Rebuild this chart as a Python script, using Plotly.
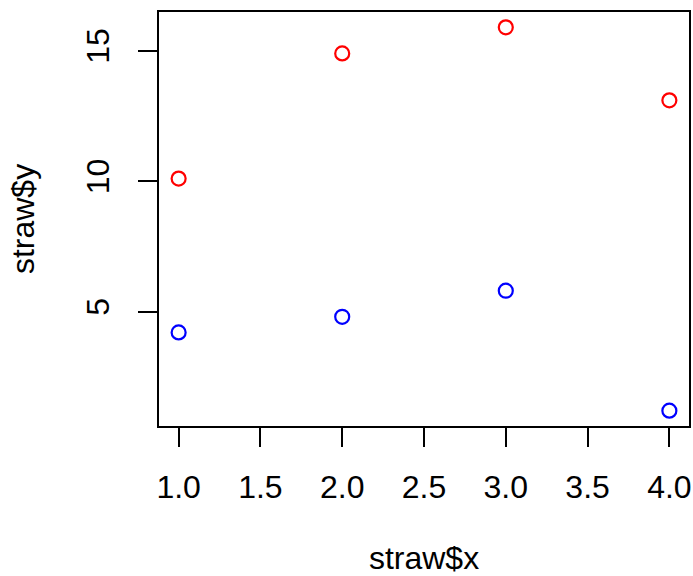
import plotly.graph_objects as go

x_vals = [1, 2, 3, 4]
y_red = [10.1, 14.9, 15.9, 13.1]
y_blue = [4.2, 4.8, 5.8, 1.2]
x_ticks = [1.0, 1.5, 2.0, 2.5, 3.0, 3.5, 4.0]
x_ticktext = ["1.0", "1.5", "2.0", "2.5", "3.0", "3.5", "4.0"]
y_ticks = [5, 10, 15]
y_ticktext = ["5", "10", "15"]

FONT = "Liberation Sans, Arial, Helvetica, sans-serif"
FS = 32

fig = go.Figure()
for ys, col in [(y_red, "#FF0000"), (y_blue, "#0000FF")]:
    fig.add_trace(go.Scatter(
        x=x_vals, y=ys, mode="markers",
        marker=dict(symbol="circle-open", size=14, color=col, line=dict(width=2.2, color=col)),
        showlegend=False, hoverinfo="skip"))

allx = x_vals
ally = y_red + y_blue
xr = [min(allx) - 0.04 * (max(allx) - min(allx)), max(allx) + 0.04 * (max(allx) - min(allx))]
yr = [min(ally) - 0.04 * (max(ally) - min(ally)), max(ally) + 0.04 * (max(ally) - min(ally))]

axis_common = dict(
    showgrid=False, zeroline=False, showline=True, mirror=True,
    linecolor="black", linewidth=1.8, ticks="outside", ticklen=19,
    tickwidth=1.8, tickcolor="black", automargin=False,
    tickfont=dict(family=FONT, size=FS, color="black"),
)

fig.update_layout(
    width=693, height=576,
    margin=dict(l=159, r=4, t=12, b=150),
    paper_bgcolor="white", plot_bgcolor="white",
    font=dict(family=FONT, color="black"),
    xaxis=dict(range=xr, tickvals=x_ticks, ticktext=x_ticktext, ticklabelstandoff=13,
               title=dict(text="straw$x", font=dict(family=FONT, size=FS), standoff=48),
               **axis_common),
    yaxis=dict(range=yr, tickvals=y_ticks, ticktext=y_ticktext, tickangle=-90,
               ticklabelstandoff=16,
               title=dict(text="straw$y", font=dict(family=FONT, size=FS), standoff=36),
               **axis_common),
)

fig.write_html("out.html")
